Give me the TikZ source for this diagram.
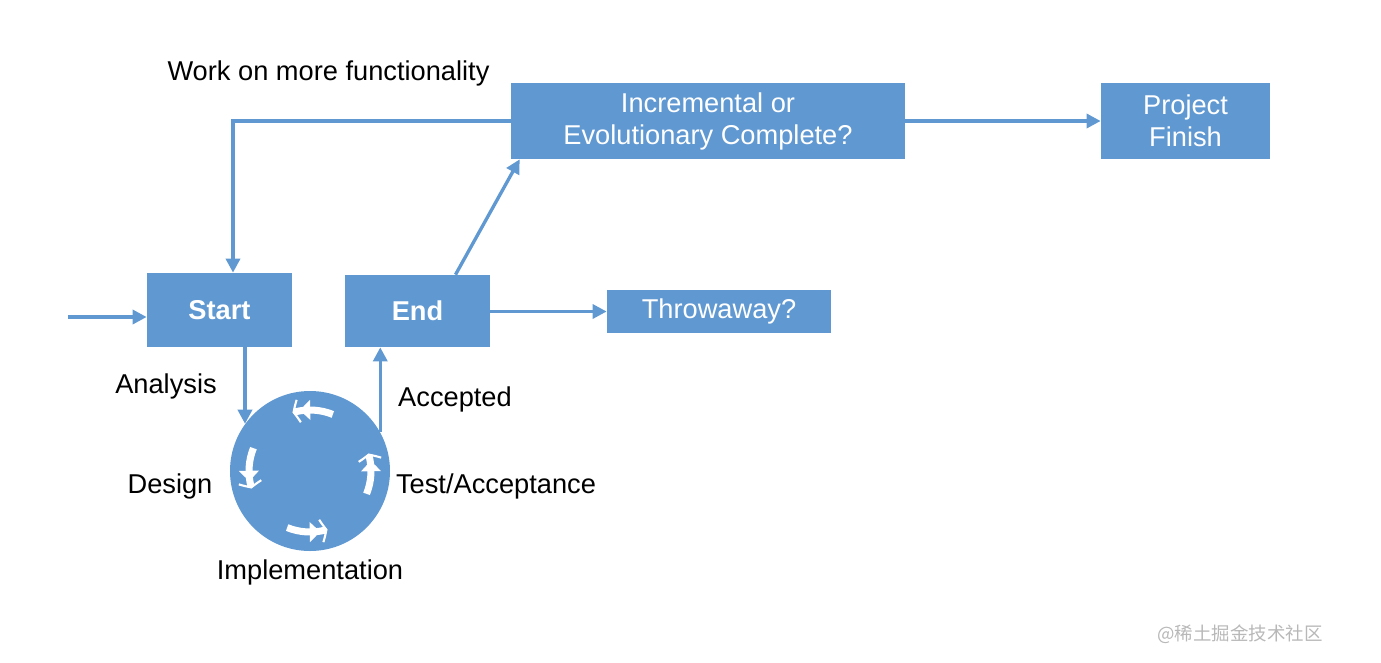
\documentclass[tikz,border=0pt]{standalone}
\usepackage{fontspec}
\setmainfont{Liberation Sans}
\newfontfamily\cjk{Noto Sans CJK SC}
\usetikzlibrary{arrows.meta,bending,calc}
\definecolor{boxblue}{RGB}{96,152,210}

\begin{document}
\begin{tikzpicture}[
  every node/.style={font=\fontsize{15.5}{18.2}\selectfont},
  blk/.style={fill=boxblue, text=white, align=center, inner sep=0pt},
  link/.style={draw=boxblue, line width=1.9pt, -{Triangle[length=8pt,width=8pt]}},
  spin/.style={draw=white, line width=4pt, -{Triangle[length=6pt,width=11pt,bend] Straight Barb[length=3pt,width=13pt,line width=1.2pt,sep=2pt,bend]}}]
  \useasboundingbox (0,0) rectangle (27.62,-13.24);

  \node[blk, minimum width=2.9cm, minimum height=1.48cm] (start) at (4.39,-6.2) {\textbf{Start}};
  \node[blk, minimum width=2.9cm, minimum height=1.44cm] (end) at (8.35,-6.22) {\textbf{End}};
  \node[blk, minimum width=4.48cm, minimum height=0.86cm] (thr) at (14.38,-6.23) {Throwaway?};
  \node[blk, minimum width=7.88cm, minimum height=1.52cm] (inc) at (14.16,-2.42) {Incremental or\\Evolutionary Complete?};
  \node[blk, minimum width=3.38cm, minimum height=1.52cm] (fin) at (23.71,-2.42) {Project\\Finish};
  \node[circle, fill=boxblue, minimum size=3.2cm, inner sep=0pt] (cyc) at (6.2,-9.42) {};

  % turning arrows inside the cycle
  \foreach \a in {90,180,270,0}
    \draw[spin] (cyc.center) ++(\a-22:1.22) arc (\a-22:\a+20:1.22);

  \coordinate (entry) at (1.36,-6.34);
  \coordinate (back) at ($(start.north)+(0.27,0)$);
  \coordinate (up) at ($(end.north)+(0.76,0)$);
  \coordinate (upend) at ($(inc.south west)+(0.18,0)$);

  \draw[link] (entry) -- (entry -| start.west);
  \draw[link] (cyc.144 |- start.south) -- (cyc.144);
  \draw[link] (cyc.29) -- (cyc.29 |- end.south);
  \draw[link] (up) -- (upend);
  \draw[link] (inc.west) -| (back);
  \draw[link] (inc.east) -- (fin.west);
  \draw[link] (end.east |- thr.west) -- (thr.west);

  \node (more) at (6.57,-1.46) {Work on more functionality};
  \node (ana) at (3.32,-7.72) {Analysis};
  \node (acc) at (9.1,-7.98) {Accepted};
  \node (des) at (3.4,-9.72) {Design};
  \node (tst) at (9.92,-9.72) {Test/Acceptance};
  \node (imp) at (6.2,-11.44) {Implementation};
  \node[text=black!28, font=\cjk\fontsize{10.5}{12}\selectfont] (mark) at (24.8,-12.68) {@稀土掘金技术社区};
\end{tikzpicture}
\end{document}
